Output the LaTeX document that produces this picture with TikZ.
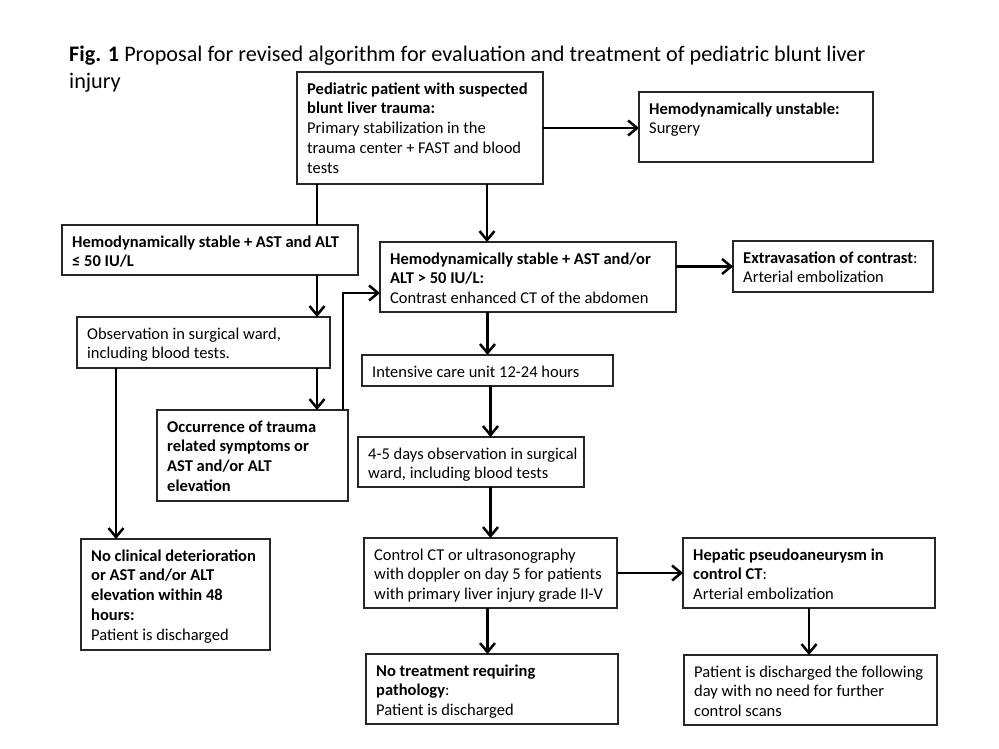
\documentclass[tikz,border=0pt]{standalone}
\usepackage{fontspec}
\setmainfont{Carlito}
\usetikzlibrary{arrows.meta,calc}
\tikzset{
  box/.style={draw=black!85, line width=1.1pt, rectangle, inner sep=0pt, outer sep=0pt},
  txt/.style={inner sep=0pt, align=left, font=\fontsize{16.5}{19.8}\selectfont},
  ttl/.style={inner sep=0pt, align=left, font=\fontsize{22.2}{26.5}\selectfont},
  arr/.style={line width=2.7pt, -{Straight Barb[length=9pt,width=15pt,line width=2.5pt]}},
  ln/.style={line width=2.7pt}
}
\newcommand{\bbox}[6]{%
  \node[box, minimum width=#4pt, minimum height=#5pt, anchor=north west] (#1) at (#2,#3) {};
  \node[txt, anchor=north west] (#1t) at ([shift={(10pt,-8pt)}]#1.north west) {\strut#6};
}
\begin{document}
\begin{tikzpicture}[x=1pt,y=-1pt]
\fill[white] (0,0) rectangle (999,749);
\useasboundingbox (0,0) rectangle (999,749);

\node[ttl, anchor=north west] (title) at (69,43) {\strut\textbf{Fig. 1} Proposal for revised algorithm for evaluation and treatment of pediatric blunt liver\\injury};

\bbox{A}{297}{72}{246}{112}{\textbf{Pediatric patient with suspected}\\\textbf{blunt liver trauma:}\\Primary stabilization in the\\trauma center + FAST and blood\\tests}
\bbox{U}{639}{92}{234}{70}{\textbf{Hemodynamically unstable:}\\Surgery}
\bbox{S1}{62}{225}{296}{50}{\textbf{Hemodynamically stable + AST and ALT}\\\textbf{≤ 50 IU/L}}
\bbox{S2}{380}{242}{296}{70}{\textbf{Hemodynamically stable + AST and/or}\\\textbf{ALT > 50 IU/L:}\\Contrast enhanced CT of the abdomen}
\bbox{Ex}{733}{241}{200}{51}{\textbf{Extravasation of contrast}:\\Arterial embolization}
\bbox{Obs}{77}{317}{253}{51}{Observation in surgical ward,\\including blood tests.}
\bbox{ICU}{362}{355}{251}{31}{Intensive care unit 12-24 hours}
\bbox{Occ}{157}{410}{191}{91}{\textbf{Occurrence of trauma}\\\textbf{related symptoms or}\\\textbf{AST and/or ALT}\\\textbf{elevation}}
\bbox{F}{358}{437}{226}{50}{4-5 days observation in surgical\\ward, including blood tests}
\bbox{NoC}{81}{539}{189}{111}{\textbf{No clinical deterioration}\\\textbf{or AST and/or ALT}\\\textbf{elevation within 48}\\\textbf{hours:}\\Patient is discharged}
\bbox{Ctl}{364}{538}{253}{70}{Control CT or ultrasonography\\with doppler on day 5 for patients\\with primary liver injury grade II-V}
\bbox{Hep}{683}{538}{252}{70}{\textbf{Hepatic pseudoaneurysm in}\\\textbf{control CT}:\\Arterial embolization}
\bbox{NT}{366}{654}{252}{70}{\textbf{No treatment requiring}\\\textbf{pathology}:\\Patient is discharged}
\bbox{D}{684}{655}{253}{70}{Patient is discharged the following\\day with no need for further\\control scans}

% connectors
\draw[arr] (A.east) -- (A.east -| U.west);
\draw[ln] ([xshift=20pt]A.south west) -- ([xshift=20pt]A.south west |- S1.north);
\draw[arr] ([xshift=-56pt]A.south east) -- ([xshift=-56pt]A.south east |- S2.north);
\draw[arr] ([xshift=-41pt]S1.south east) -- ([xshift=-41pt]S1.south east |- Obs.north);
\draw[arr] ([xshift=-13pt]Obs.south east) -- ([xshift=-13pt]Obs.south east |- Occ.north);
\draw[arr] ([xshift=-5pt]Occ.north east) |- ([yshift=-51pt]S2.north west);
\draw[arr] ([xshift=39pt]Obs.south west) -- ([xshift=39pt]Obs.south west |- NoC.north);
\draw[arr] (S2.east |- Ex.west) -- (Ex.west);
\draw[arr] (S2.south -| ICU.north) -- (ICU.north);
\draw[arr] (ICU.south -| Ctl.north) -- (F.north -| Ctl.north);
\draw[arr] (F.south -| Ctl.north) -- (Ctl.north);
\draw[arr] (Ctl.east) -- (Ctl.east -| Hep.west);
\draw[arr] ([xshift=-3pt]Ctl.south) -- ([xshift=-3pt]Ctl.south |- NT.north);
\draw[arr] (Hep.south) -- (Hep.south |- D.north);
\end{tikzpicture}
\end{document}
